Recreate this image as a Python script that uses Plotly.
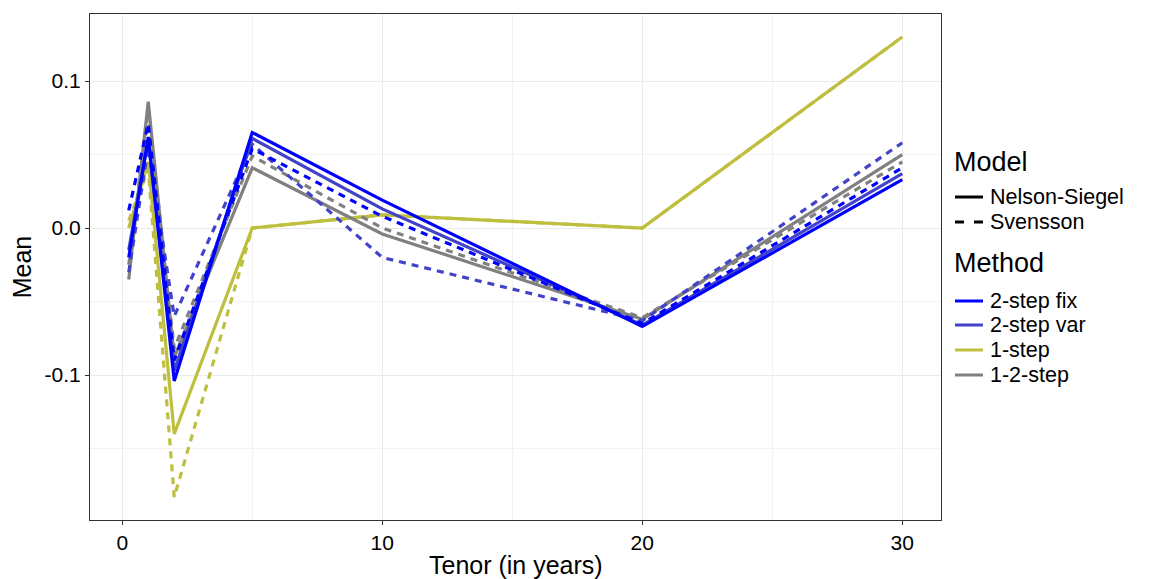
import plotly.graph_objects as go

tenors = [0.25, 1, 2, 5, 10, 20, 30]

methods = ["2-step fix", "2-step var", "1-step", "1-2-step"]
models = ["Nelson-Siegel", "Svensson"]

method_colors = {
    "2-step fix": "#0000FF",
    "2-step var": "#4343C9",
    "1-step": "#BFBF3F",
    "1-2-step": "#808080",
}
model_dash = {"Nelson-Siegel": "solid", "Svensson": "7px,6px"}

ns_2step_fix = [-0.020, 0.062, -0.104, 0.065, 0.019, -0.067, 0.033]
ns_2step_var = [-0.015, 0.060, -0.097, 0.061, 0.013, -0.066, 0.037]
ns_1step = [0.000, 0.045, -0.140, 0.000, 0.009, 0.000, 0.130]
ns_12step = [-0.035, 0.086, -0.088, 0.041, -0.004, -0.062, 0.050]

sv_2step_fix = [0.012, 0.071, -0.090, 0.054, 0.008, -0.065, 0.041]
sv_2step_var = [-0.030, 0.055, -0.060, 0.057, -0.020, -0.063, 0.058]
sv_1step = [0.005, 0.040, -0.183, 0.000, 0.009, 0.000, 0.130]
sv_12step = [-0.025, 0.080, -0.082, 0.049, 0.000, -0.061, 0.045]

series = {
    ("Nelson-Siegel", "2-step fix"): ns_2step_fix,
    ("Nelson-Siegel", "2-step var"): ns_2step_var,
    ("Nelson-Siegel", "1-step"): ns_1step,
    ("Nelson-Siegel", "1-2-step"): ns_12step,
    ("Svensson", "2-step fix"): sv_2step_fix,
    ("Svensson", "2-step var"): sv_2step_var,
    ("Svensson", "1-step"): sv_1step,
    ("Svensson", "1-2-step"): sv_12step,
}

draw_order = [
    ("Svensson", "1-step"), ("Nelson-Siegel", "1-step"),
    ("Svensson", "1-2-step"), ("Nelson-Siegel", "1-2-step"),
    ("Svensson", "2-step var"), ("Nelson-Siegel", "2-step var"),
    ("Svensson", "2-step fix"), ("Nelson-Siegel", "2-step fix"),
]

fig = go.Figure()
for key in draw_order:
    model, method = key
    fig.add_trace(go.Scatter(
        x=tenors, y=series[key], mode="lines",
        line=dict(color=method_colors[method], width=3.2, dash=model_dash[model]),
        showlegend=False, hoverinfo="skip",
    ))

# ---- custom legend and x title (paper coordinates, calibrated to screen pixels) ----
plot_left, plot_right, plot_top, plot_bottom = 90, 941, 14, 520
def px(xs):
    return (xs - plot_left) / (plot_right - plot_left)
def py(ys):
    return (plot_bottom - ys) / (plot_bottom - plot_top)

shapes = []
annotations = []
title_font = dict(size=27, color="black")
item_font = dict(size=21.5, color="black")
sample_x0, sample_x1, text_x = 955, 983, 991

annotations.append(dict(x=px(sample_x0 - 3), y=py(162), xref="paper", yref="paper",
                        text="Model", showarrow=False, xanchor="left", yanchor="middle",
                        font=title_font))
for model, yy in zip(models, [197, 222]):
    if model_dash[model] == "solid":
        shapes.append(dict(type="line", xref="paper", yref="paper",
                           x0=px(sample_x0), x1=px(sample_x1), y0=py(yy), y1=py(yy),
                           line=dict(color="black", width=3)))
    else:
        for a, b in [(sample_x0, sample_x0 + 9), (sample_x1 - 9, sample_x1)]:
            shapes.append(dict(type="line", xref="paper", yref="paper",
                               x0=px(a), x1=px(b), y0=py(yy), y1=py(yy),
                               line=dict(color="black", width=3)))
    annotations.append(dict(x=px(text_x - 3), y=py(yy), xref="paper", yref="paper",
                            text=model, showarrow=False, xanchor="left", yanchor="middle",
                            font=item_font))

annotations.append(dict(x=px(sample_x0 - 3), y=py(263), xref="paper", yref="paper",
                        text="Method", showarrow=False, xanchor="left", yanchor="middle",
                        font=title_font))
for method, yy in zip(methods, [301, 325, 350, 375]):
    shapes.append(dict(type="line", xref="paper", yref="paper",
                       x0=px(sample_x0), x1=px(sample_x1), y0=py(yy), y1=py(yy),
                       line=dict(color=method_colors[method], width=3)))
    annotations.append(dict(x=px(text_x - 3), y=py(yy), xref="paper", yref="paper",
                            text=method, showarrow=False, xanchor="left", yanchor="middle",
                            font=item_font))

# x axis title
annotations.append(dict(x=0.5, y=py(565), xref="paper", yref="paper",
                        text="Tenor (in years)", showarrow=False,
                        xanchor="center", yanchor="middle",
                        font=dict(size=25, color="black")))

axis_common = dict(
    showline=True, linecolor="#333333", linewidth=1, mirror=True,
    gridcolor="#EBEBEB", gridwidth=1, zeroline=False,
    ticks="outside", ticklen=4, tickcolor="#333333",
    tickfont=dict(size=21, color="black"),
)

fig.update_layout(
    width=1145, height=571,
    margin=dict(l=82, r=212, t=6, b=59),
    plot_bgcolor="white", paper_bgcolor="white",
    font=dict(family="Liberation Sans, Arial, sans-serif", color="black"),
    showlegend=False,
    shapes=shapes,
    annotations=annotations,
    xaxis=dict(
        range=[-1.24, 31.49], tick0=0, dtick=10,
        minor=dict(showgrid=True, dtick=5, tick0=0, gridcolor="#F2F2F2", ticks=""),
        **axis_common,
    ),
    yaxis=dict(
        range=[-0.1986, 0.1456], tickvals=[-0.1, 0.0, 0.1], ticktext=["-0.1", "0.0", "0.1"],
        minor=dict(showgrid=True, tickvals=[-0.15, -0.05, 0.05], gridcolor="#F2F2F2", ticks=""),
        title=dict(text="Mean", font=dict(size=25), standoff=8),
        **axis_common,
    ),
)

fig.write_html("out.html")
